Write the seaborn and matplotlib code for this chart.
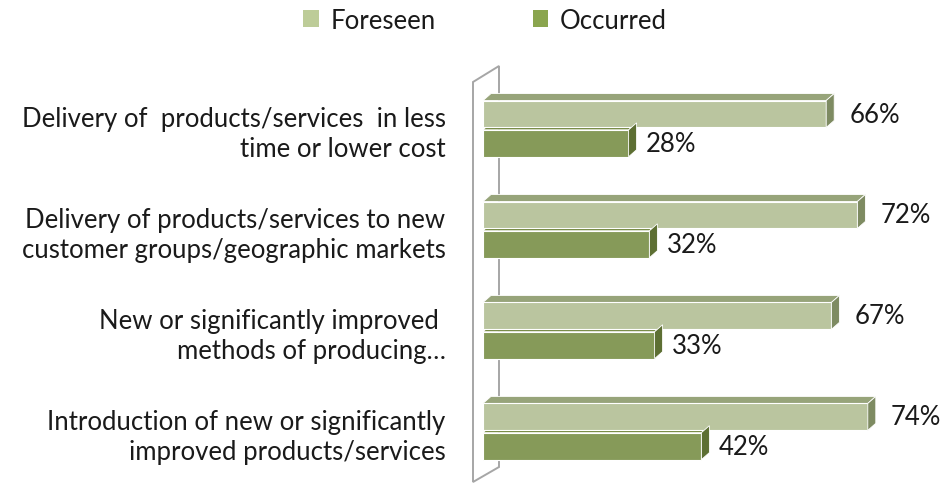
import matplotlib
matplotlib.use("Agg")
import matplotlib.pyplot as plt
from matplotlib.patches import Polygon, Patch
import seaborn as sns
import pandas as pd
import numpy as np

# %% data
categories = [
    "Delivery of  products/services  in less\ntime or lower cost",
    "Delivery of products/services to new\ncustomer groups/geographic markets",
    "New or significantly improved \nmethods of producing…",
    "Introduction of new or significantly\nimproved products/services",
]
foreseen = [66, 72, 67, 74]
occurred = [28, 32, 33, 42]
series = ["Foreseen", "Occurred"]

face = {"Foreseen": "#BDCC98", "Occurred": "#8AA54E"}
side = {"Foreseen": "#7E8B62", "Occurred": "#5D6F33"}
top = {"Foreseen": "#97A47A", "Occurred": "#73873F"}
label_gap = {"Foreseen": 15, "Occurred": 9}

df = pd.DataFrame({
    "category": categories * 2,
    "series": ["Foreseen"] * 4 + ["Occurred"] * 4,
    "value": foreseen + occurred,
})

# %% plot
sns.set_style("white")
plt.rcParams["font.family"] = ["Lato", "DejaVu Sans"]
FS = 18.5

fig = plt.figure(figsize=(9.42, 4.85), dpi=100)
ax = fig.add_axes([483 / 942, 0, 1 - 483 / 942, 1 - 60 / 485])
ax.patch.set_visible(False)

sns.barplot(data=df, y="category", x="value", hue="series", orient="h",
            palette=face, width=0.58, gap=0.08, edgecolor="white",
            linewidth=0.8, ax=ax, legend=False, zorder=2)

ax.set_xlim(0, (942 - 483) / 5.2)
ax.set_ylim(3.52, -0.69)
ax.set_xlabel("")
ax.set_ylabel("")
ax.set_xticks([])
for s in ax.spines.values():
    s.set_visible(False)
ax.tick_params(axis="y", length=0, pad=27, labelsize=FS, labelcolor="#1a1a1a")
for lab in ax.get_yticklabels():
    lab.set_linespacing(1.25)

# 3D faces derived from bar geometry
dx, dy = 8, 7  # pixels
inv = ax.transData.inverted()
for cont, name in zip(ax.containers, series):
    vals = foreseen if name == "Foreseen" else occurred
    for bar, val in zip(cont.patches, vals):
        x0, y0 = bar.get_x(), bar.get_y()
        w, h = bar.get_width(), bar.get_height()
        tl, tr, br = ax.transData.transform([[x0, y0], [x0 + w, y0], [x0 + w, y0 + h]])
        top_poly = [tl, tr, tr + [dx, dy], tl + [dx, dy]]
        side_poly = [tr, br, br + [dx, dy], tr + [dx, dy]]
        ax.add_patch(Polygon(inv.transform(top_poly), closed=True,
                             facecolor=top[name], edgecolor="white", lw=0.6,
                             zorder=1.9))
        ax.add_patch(Polygon(inv.transform(side_poly), closed=True,
                             facecolor=side[name], edgecolor="white", lw=0.6,
                             zorder=2.1))
        ax.annotate(f"{val}%", (x0 + w, y0 + h / 2),
                    xytext=(dx + label_gap[name], 0),
                    textcoords="offset pixels", va="center", ha="left",
                    fontsize=FS, color="#1a1a1a")

# back wall
wall = np.array([(473, 485 - 83), (499, 485 - 67), (499, 485 - 468),
                 (473, 485 - 483)]) / [942, 485]
ax.add_patch(Polygon(wall, closed=True, transform=fig.transFigure,
                     facecolor="white", edgecolor="#A6A6A6", lw=1.4,
                     zorder=0.5, clip_on=False))

# legend
handles = [Patch(facecolor=face[s], edgecolor="none") for s in series]
fig.legend(handles, series, loc="upper center", bbox_to_anchor=(0.515, 1.03),
           ncol=2, frameon=False, fontsize=FS, handlelength=0.6,
           handleheight=0.6, handletextpad=0.45, columnspacing=3.8,
           labelcolor="#1a1a1a")

fig.savefig("out.png", dpi=100)
